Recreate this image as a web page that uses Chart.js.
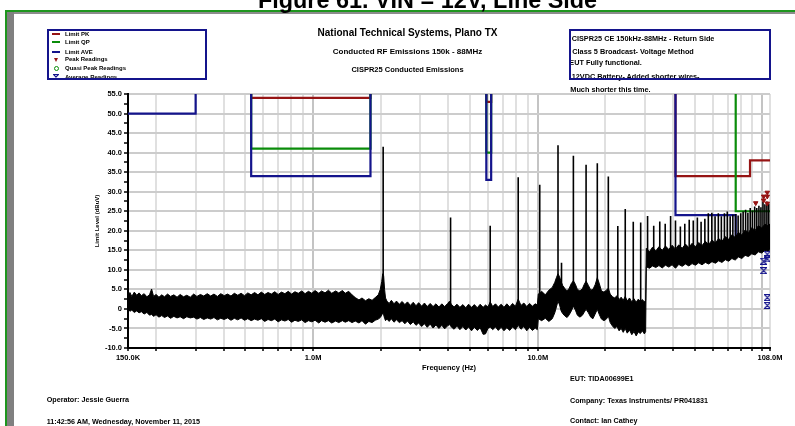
<!DOCTYPE html>
<html>
<head>
<meta charset="utf-8">
<script src="https://cdn.jsdelivr.net/npm/chart.js@4.4.0/dist/chart.umd.min.js"></script>
<style>
  html, body { margin: 0; padding: 0; background: #fff; }
  #page { position: relative; width: 795px; height: 426px; overflow: hidden;
          font-family: "Liberation Sans", Arial, sans-serif; font-weight: bold; color: #000; }
  #page canvas { position: absolute; left: 0; top: 0; z-index: 0; }
  .txt { position: absolute; white-space: nowrap; z-index: 1; }
  .ctr { left: 407.5px; transform: translateX(-50%); }
  .leg { left: 65px; font-size: 6px; line-height: 8px; }
  .info { font-size: 7.3px; line-height: 9px; }
  .foot { font-size: 7.2px; line-height: 9px; }
  .box { position: absolute; box-sizing: border-box; border: 2px solid #14148c; z-index: 2; }
  .rule { position: absolute; z-index: 1; }
  .key { position: absolute; z-index: 1; }
</style>
</head>
<body>
<div id="page">
  <canvas id="emiChart" width="795" height="426"></canvas>

  <!-- page frame -->
  <div class="rule" style="left:5px;top:10px;width:790px;height:2px;background:#1e961e"></div>
  <div class="rule" style="left:14px;top:12px;width:781px;height:1.5px;background:#8c8c8c"></div>
  <div class="rule" style="left:5px;top:10px;width:1.5px;height:416px;background:#1e961e"></div>
  <div class="rule" style="left:7px;top:12px;width:7px;height:414px;background:#808080"></div>

  <div class="txt" style="left:258px;top:-10.8px;font-size:23.4px;line-height:23px">Figure 61. VIN = 12V, Line Side</div>

  <div class="txt ctr" style="top:28.3px;font-size:10px;line-height:10px">National Technical Systems, Plano TX</div>
  <div class="txt ctr" style="top:46.7px;font-size:8px;line-height:10px">Conducted RF Emissions 150k - 88MHz</div>
  <div class="txt ctr" style="top:65px;font-size:7.5px;line-height:10px">CISPR25 Conducted Emissions</div>

  <!-- legend -->
  <div class="box" style="left:46.7px;top:29.3px;width:160.3px;height:50.7px"></div>
  <div class="key" style="left:52px;top:33.3px;width:8px;height:2px;background:#961414"></div>
  <div class="key" style="left:52px;top:41.3px;width:8px;height:2px;background:#0a8c0a"></div>
  <div class="key" style="left:52px;top:50.7px;width:8px;height:2px;background:#14148c"></div>
  <div class="key" style="left:53.5px;top:57.5px;width:0;height:0;border-left:2.5px solid transparent;border-right:2.5px solid transparent;border-top:4px solid #961414"></div>
  <div class="key" style="left:53.5px;top:65.8px;width:3px;height:3px;border:1px solid #0a8c0a;border-radius:50%"></div>
  <svg class="key" style="left:53px;top:73.7px" width="6" height="6" viewBox="0 0 6 6">
    <path d="M0.5 0.5 H5.5 L0.5 5.5 H5.5 Z" fill="none" stroke="#14148c" stroke-width="1.2"/>
  </svg>
  <div class="txt leg" style="top:30.3px">Limit PK</div>
  <div class="txt leg" style="top:38.3px">Limit QP</div>
  <div class="txt leg" style="top:47.7px">Limit AVE</div>
  <div class="txt leg" style="top:55.3px">Peak Readings</div>
  <div class="txt leg" style="top:64.3px">Quasi Peak Readings</div>
  <div class="txt leg" style="top:72.7px">Average Readings</div>

  <!-- test notes -->
  <div class="box" style="left:569.3px;top:29.3px;width:201.7px;height:50.7px"></div>
  <div class="txt info" style="left:571.7px;top:33.8px">CISPR25 CE 150kHz-88MHz - Return Side</div>
  <div class="txt info" style="left:572.3px;top:47.2px">Class 5 Broadcast- Voltage Method</div>
  <div class="txt info" style="left:569.3px;top:58.2px">EUT Fully functional.</div>
  <div class="txt info" style="left:571.7px;top:72.2px">12VDC Battery- Added shorter wires-</div>
  <div class="txt info" style="left:570.3px;top:84.8px">Much shorter this time.</div>

  <div class="txt foot" style="left:570px;top:373.8px">EUT: TIDA00699E1</div>
  <div class="txt foot" style="left:46.7px;top:394.8px">Operator: Jessie Guerra</div>
  <div class="txt foot" style="left:570px;top:395.5px">Company: Texas Instruments/ PR041831</div>
  <div class="txt foot" style="left:46.7px;top:416.5px">11:42:56 AM, Wednesday, November 11, 2015</div>
  <div class="txt foot" style="left:570px;top:416.2px">Contact: Ian Cathey</div>
</div>

<script>
// frequencies are in MHz, levels in dBuV

const freqTicks = [0.15, 0.2, 0.3, 0.4, 0.5, 0.6, 0.7, 0.8, 0.9,
                   1, 2, 3, 4, 5, 6, 7, 8, 9,
                   10, 20, 30, 40, 50, 60, 70, 80, 90, 100, 108];
const freqLabelAt = [0.15, 1, 10, 108];
const freqLabelText = ['150.0K', '1.0M', '10.0M', '108.0M'];

// CISPR25 class 5 limits; 80 runs the band edges off the top, null breaks between bands
const limitPkFreq  = [0.15, 0.3, 0.3, 0.4, 0.53, 0.53, 1.8, 1.8, 3, 5.9, 5.9, 6.2, 6.2, 20, 41, 41, 88, 88, 108];
const limitPkLevel = [70, 70, 80, null, 80, 54, 54, 80, null, 80, 53, 53, 80, null, 80, 34, 34, 38, 38];

const limitQpFreq  = [0.15, 0.3, 0.3, 0.4, 0.53, 0.53, 1.8, 1.8, 3, 5.9, 5.9, 6.2, 6.2, 50, 76, 76, 108];
const limitQpLevel = [57, 57, 80, null, 80, 41, 41, 80, null, 80, 40, 40, 80, null, 80, 25, 25];

const limitAveFreq  = [0.15, 0.3, 0.3, 0.4, 0.53, 0.53, 1.8, 1.8, 3, 5.9, 5.9, 6.2, 6.2, 20, 41, 41, 76, 76, 108];
const limitAveLevel = [50, 50, 80, null, 80, 34, 34, 80, null, 80, 33, 33, 80, null, 80, 24, 24, 18, 18];

// noise floor of the sweep: upper and lower edge of the trace
const noiseFreq = [
  0.150, 0.153, 0.156, 0.160, 0.164, 0.168, 0.172, 0.177, 0.182, 0.187,
  0.191, 0.195, 0.200, 0.206, 0.212, 0.218, 0.225, 0.232, 0.240, 0.248,
  0.256, 0.265, 0.274, 0.284, 0.294, 0.304, 0.315, 0.326, 0.338, 0.350,
  0.362, 0.375, 0.388, 0.402, 0.416, 0.431, 0.446, 0.462, 0.478, 0.495,
  0.512, 0.530, 0.549, 0.568, 0.588, 0.609, 0.630, 0.652, 0.675, 0.699,
  0.723, 0.749, 0.775, 0.802, 0.830, 0.859, 0.890, 0.921, 0.953, 0.987,
  1.02, 1.06, 1.09, 1.13, 1.17, 1.21, 1.26, 1.30, 1.35, 1.39,
  1.44, 1.49, 1.54, 1.60, 1.65, 1.71, 1.77, 1.83, 1.89, 1.95,
  1.99, 2.02, 2.04, 2.06, 2.08, 2.10,
  2.13, 2.18, 2.23, 2.29, 2.35, 2.42, 2.49, 2.56, 2.63, 2.71,
  2.79, 2.87, 2.95, 3.04, 3.13, 3.22, 3.32, 3.42, 3.52, 3.63,
  3.74, 3.85, 3.97, 4.05, 4.12, 4.24, 4.37, 4.50, 4.64, 4.78,
  4.92, 5.07, 5.22, 5.38, 5.54, 5.71, 5.85, 6.00, 6.14, 6.30,
  6.48, 6.67, 6.87, 7.07, 7.28, 7.50, 7.72, 7.95, 8.18, 8.42,
  8.67, 8.93, 9.19, 9.46, 9.74, 9.95,
  10.05, 10.4, 10.8, 11.2, 11.6, 11.9, 12.1, 12.3, 12.5, 12.7,
  12.9, 13.2, 13.5, 13.8, 14.1, 14.4, 14.7, 15.0, 15.4, 15.8,
  16.1, 16.4, 16.8, 17.2, 17.6, 18.0, 18.4, 18.8, 19.2, 19.7,
  20.2, 20.6, 21.0, 21.5, 22.0, 22.5, 23.0, 23.5, 24.0, 24.5,
  25.0, 25.6, 26.2, 26.8, 27.4, 28.0, 28.6, 29.2, 29.8, 30.2,
  30.4, 31.4, 32.4, 33.5, 34.6, 35.8, 37.0, 38.3, 39.6, 41.0,
  42.4, 43.9, 45.4, 47.0, 48.6, 50.3, 52.0, 53.8, 55.7, 57.6,
  59.6, 61.7, 63.8, 66.0, 68.3, 70.7, 73.1, 75.6, 78.2, 80.9,
  83.7, 86.6, 89.6, 92.7, 95.9, 99.2, 102.6, 106.1, 108.0
];
const noiseHigh = [
  3.6, 4.2, 3.2, 4.3, 3.5, 4.1, 3.4, 3.9, 3.1, 3.6,
  5.1, 3.2, 3.7, 3.0, 3.6, 3.1, 3.8, 3.2, 3.6, 3.0,
  3.7, 3.1, 3.5, 3.0, 3.8, 3.2, 3.7, 3.3, 3.9, 3.3,
  3.8, 3.2, 3.9, 3.4, 3.8, 3.3, 4.0, 3.5, 4.0, 3.4,
  4.1, 3.6, 4.2, 3.6, 4.3, 3.7, 4.2, 3.8, 4.4, 3.7,
  4.3, 3.9, 4.5, 3.8, 4.4, 4.0, 4.6, 3.9, 4.5, 4.0,
  4.7, 4.0, 4.6, 4.1, 4.8, 4.0, 4.6, 4.1, 4.7, 4.0,
  4.5, 3.6, 2.9, 2.3, 2.8, 2.1, 2.6, 2.2, 2.9, 3.6,
  5.0, 7.0, 9.0, 8.5, 5.0, 2.8,
  2.0, 1.4, 2.2, 1.3, 2.0, 1.2, 1.9, 1.1, 1.8, 0.9,
  1.7, 0.8, 1.6, 0.7, 1.5, 0.6, 1.4, 0.6, 1.3, 0.5,
  1.3, 0.6, 1.4, 2.0, 1.2, 0.5, 1.2, 0.4, 1.1, 0.3,
  1.2, 0.4, 1.1, 0.3, 1.2, 0.4, 1.0, 0.5, 1.8, 0.6,
  1.3, 0.5, 1.2, 0.4, 1.3, 0.5, 1.4, 0.7, 2.5, 0.9,
  1.5, 0.6, 1.4, 0.7, 1.3, 1.0,
  3.8, 4.5, 3.6, 4.8, 5.5, 6.8, 8.0, 9.0, 8.2, 7.0,
  6.0, 5.2, 4.6, 5.3, 6.5, 7.2, 6.3, 5.0, 4.6, 5.2,
  6.3, 7.1, 6.0, 4.8, 5.0, 6.2, 8.0, 6.4, 4.6, 4.3,
  4.8, 5.3, 3.8, 3.1, 2.8, 3.4, 2.4, 3.0, 2.2, 3.2,
  2.0, 2.8, 1.8, 2.6, 1.7, 2.5, 1.9, 2.4, 1.8, 2.2,
  15.5, 14.6, 15.8, 14.8, 15.9, 15.0, 16.1, 15.2, 16.3, 15.3,
  16.4, 15.5, 16.6, 15.7, 16.8, 15.9, 17.0, 16.2, 17.3, 16.5,
  17.6, 16.9, 18.0, 17.3, 18.5, 17.8, 19.0, 18.3, 19.6, 18.9,
  20.2, 19.5, 20.8, 20.1, 21.3, 20.7, 21.7, 21.2, 21.8
];
const noiseLow = [
  0.2, -0.6, -0.3, -0.9, -0.5, -1.0, -0.7, -1.3, -0.9, -1.6,
  -1.4, -1.9, -1.5, -2.1, -1.7, -2.2, -1.8, -2.4, -1.9, -2.3,
  -2.0, -2.5, -2.0, -2.3, -2.1, -2.6, -2.2, -2.7, -2.3, -2.6,
  -2.2, -2.8, -2.4, -2.7, -2.3, -2.9, -2.4, -2.8, -2.3, -2.9,
  -2.5, -3.0, -2.6, -2.9, -2.5, -3.2, -2.7, -3.0, -2.6, -3.3,
  -2.8, -3.1, -2.7, -3.4, -2.9, -3.2, -2.8, -3.5, -3.0, -3.3,
  -2.9, -3.6, -3.0, -3.4, -3.0, -3.6, -3.1, -3.5, -3.0, -3.4,
  -3.0, -3.5, -3.1, -3.6, -3.0, -3.9, -3.2, -3.5, -2.9, -2.6,
  -2.2, -1.6, -1.0, -1.5, -2.4, -3.0,
  -2.6, -3.2, -2.5, -3.4, -2.8, -3.5, -3.0, -3.8, -3.1, -4.0,
  -3.3, -4.2, -3.6, -4.5, -3.8, -4.7, -3.9, -4.9, -4.1, -5.0,
  -4.2, -5.1, -4.3, -4.0, -4.6, -5.2, -4.4, -5.3, -4.5, -5.4,
  -4.6, -5.6, -4.7, -5.5, -4.8, -6.5, -6.4, -5.0, -4.6, -5.3,
  -4.6, -5.5, -4.7, -5.6, -4.8, -5.5, -4.6, -5.3, -4.2, -5.2,
  -4.5, -5.6, -4.7, -5.5, -4.9, -5.3,
  -2.5, -3.0, -2.4, -3.2, -2.5, -1.0, 0.5, 2.0, 1.0, -0.5,
  -1.2, -1.8, -2.2, -1.5, -0.5, 0.7, -0.3, -1.6, -2.1, -1.6,
  -0.8, -0.1, -1.0, -2.1, -2.5, -1.3, -0.1, -1.5, -2.6, -3.0,
  -2.6, -1.8, -3.5, -4.4, -5.0, -4.5, -5.6, -5.0, -6.0, -5.0,
  -6.2, -5.4, -6.6, -5.8, -6.9, -5.9, -6.3, -5.6, -6.4, -5.8,
  10.8, 10.4, 11.0, 10.6, 11.1, 10.5, 11.2, 10.7, 11.3, 10.4,
  11.4, 10.9, 11.5, 11.0, 11.6, 11.2, 11.8, 11.3, 11.9, 11.5,
  12.1, 11.7, 12.3, 11.9, 12.6, 12.2, 12.9, 12.5, 13.3, 12.9,
  13.7, 13.4, 14.1, 13.8, 14.6, 14.3, 15.0, 14.7, 15.2
];

// narrowband harmonics rising out of the noise floor
const spikeFreq = [
  2.05, 4.09, 6.14, 8.18, 10.2, 12.3, 12.75, 14.4, 16.4, 18.4,
  20.6, 22.7, 24.5, 26.6, 28.7,
  30.8, 32.8, 34.9, 36.9, 39.0, 41.0, 43.1, 45.1, 47.2, 49.2,
  51.3, 53.3, 55.4, 57.4, 59.5, 61.5, 63.6, 65.6, 67.7, 69.7,
  71.8, 73.8, 75.9, 77.9, 80.0, 82.0, 84.1, 86.1, 88.2, 90.2,
  92.3, 94.3, 96.4, 98.4, 100.5, 102.5, 104.6, 106.6
];
const spikeTop = [
  41.5, 23.4, 21.3, 33.7, 31.8, 41.9, 11.8, 39.2, 36.9, 37.3,
  33.9, 21.2, 25.6, 22.3, 22.1,
  23.8, 21.3, 22.4, 21.8, 23.8, 22.6, 21.1, 21.8, 22.8, 22.6,
  23.4, 22.3, 23.1, 24.5, 24.6, 23.7, 24.5, 23.7, 24.5, 24.9,
  23.7, 24.1, 24.3, 23.9, 24.5, 24.9, 25.4, 24.6, 25.8, 25.2,
  26.2, 25.8, 26.4, 26.0, 27.5, 26.8, 27.5, 27.0
];
const spikeBase = [
  0, -1, -1, -1, 0, 3, 3, 2, 2, 2,
  1, -1, -1, -1, -1,
  12, 12, 12, 12, 12, 12, 12, 12, 12, 12,
  12, 12, 12, 12, 12, 13, 13, 13, 13, 13,
  13, 13, 13, 14, 14, 14, 14, 14, 15, 15,
  15, 15, 15, 16, 16, 16, 16, 16
];

// final measurements
const peakFreq  = [93.3, 101.2, 101.2, 105.0, 105.0, 105.0];
const peakLevel = [27.1, 28.8, 27.8, 29.8, 28.8, 27.0];
const avgFreq   = [105.0, 105.0, 101.2, 101.2, 105.0, 105.0];
const avgLevel  = [14.0, 12.8, 12.2, 9.8, 2.9, 0.9];

const pkColor = '#961414';
const qpColor = '#0a8c0a';
const aveColor = '#14148c';

const toPoints = (xs, ys) => xs.map((x, i) => ({ x: x, y: ys[i] }));

const spikePoints = [];
spikeFreq.forEach((f, i) => {
  spikePoints.push({ x: f, y: spikeBase[i] }, { x: f, y: spikeTop[i] }, { x: f, y: null });
});

// X with bars top and bottom, used for the average readings
function hourglassMark(color) {
  const c = document.createElement('canvas');
  c.width = 7;
  c.height = 7;
  const g = c.getContext('2d');
  g.strokeStyle = color;
  g.lineWidth = 1.2;
  g.beginPath();
  g.moveTo(0.5, 0.5);
  g.lineTo(6.5, 0.5);
  g.lineTo(0.5, 6.5);
  g.lineTo(6.5, 6.5);
  g.closePath();
  g.stroke();
  return c;
}

Chart.defaults.font.family = '"Liberation Sans", Arial, sans-serif';

const lineStyle = { showLine: true, pointRadius: 0, tension: 0, fill: false };

new Chart(document.getElementById('emiChart'), {
  type: 'scatter',
  data: {
    datasets: [
      {
        label: 'Average Readings',
        data: toPoints(avgFreq, avgLevel),
        pointStyle: hourglassMark(aveColor),
        pointRadius: 3.5
      },
      {
        label: 'Peak Readings',
        data: toPoints(peakFreq, peakLevel),
        pointStyle: 'triangle',
        rotation: 180,
        pointRadius: 2.6,
        backgroundColor: pkColor,
        borderColor: pkColor,
        borderWidth: 1
      },
      { ...lineStyle, label: 'Spikes', data: spikePoints, borderColor: '#000', borderWidth: 1.6 },
      { ...lineStyle, label: 'Trace high', data: toPoints(noiseFreq, noiseHigh), borderColor: '#000', borderWidth: 1 },
      {
        ...lineStyle,
        label: 'Trace low',
        data: toPoints(noiseFreq, noiseLow),
        borderColor: '#000',
        borderWidth: 1,
        fill: '-1',
        backgroundColor: '#000'
      },
      { ...lineStyle, label: 'Limit AVE', data: toPoints(limitAveFreq, limitAveLevel), borderColor: aveColor, borderWidth: 2.2 },
      { ...lineStyle, label: 'Limit QP', data: toPoints(limitQpFreq, limitQpLevel), borderColor: qpColor, borderWidth: 2.2 },
      { ...lineStyle, label: 'Limit PK', data: toPoints(limitPkFreq, limitPkLevel), borderColor: pkColor, borderWidth: 2.2 }
    ]
  },
  options: {
    responsive: false,
    animation: false,
    events: [],
    layout: { padding: { top: 94, right: 25, bottom: 0, left: 0 } },
    plugins: {
      legend: { display: false },
      tooltip: { enabled: false }
    },
    scales: {
      x: {
        type: 'logarithmic',
        min: 0.15,
        max: 108,
        afterBuildTicks: (axis) => { axis.ticks = freqTicks.map(v => ({ value: v })); },
        afterFit: (axis) => { axis.height = 78; },
        ticks: {
          autoSkip: false,
          maxRotation: 0,
          padding: 2,
          color: '#000',
          font: { size: 7.5, weight: 'bold' },
          callback: (v) => {
            const i = freqLabelAt.indexOf(v);
            return i < 0 ? '' : freqLabelText[i];
          }
        },
        grid: {
          color: (c) => (c.tick && [1, 10, 100].includes(c.tick.value)) ? '#c4c4c4' : '#e0e0e0',
          lineWidth: 2,
          tickLength: 3,
          tickColor: '#000',
          tickWidth: 1.5
        },
        border: { color: '#000', width: 2 },
        title: {
          display: true,
          text: 'Frequency (Hz)',
          color: '#000',
          font: { size: 7.5, weight: 'bold' },
          padding: { top: 0, bottom: 53.5 }
        }
      },
      y: {
        min: -10,
        max: 55,
        afterFit: (axis) => { axis.width = 128; },
        ticks: {
          stepSize: 2.5,
          autoSkip: false,
          padding: 2,
          color: '#000',
          font: { size: 7.5, weight: 'bold' },
          callback: (v) => (v % 5 !== 0 ? '' : (v === 0 ? '0' : v.toFixed(1)))
        },
        grid: {
          color: (c) => (c.tick && c.tick.value % 5 === 0) ? '#cccccc' : 'rgba(0,0,0,0)',
          lineWidth: 2,
          tickLength: 4,
          tickColor: '#000',
          tickWidth: 1.5
        },
        border: { color: '#000', width: 2 },
        title: {
          display: true,
          text: 'Limit Level (dBuV)',
          color: '#000',
          font: { size: 6, weight: 'bold' },
          padding: { top: 93.4, bottom: 0 }
        }
      }
    }
  }
});
</script>
</body>
</html>
